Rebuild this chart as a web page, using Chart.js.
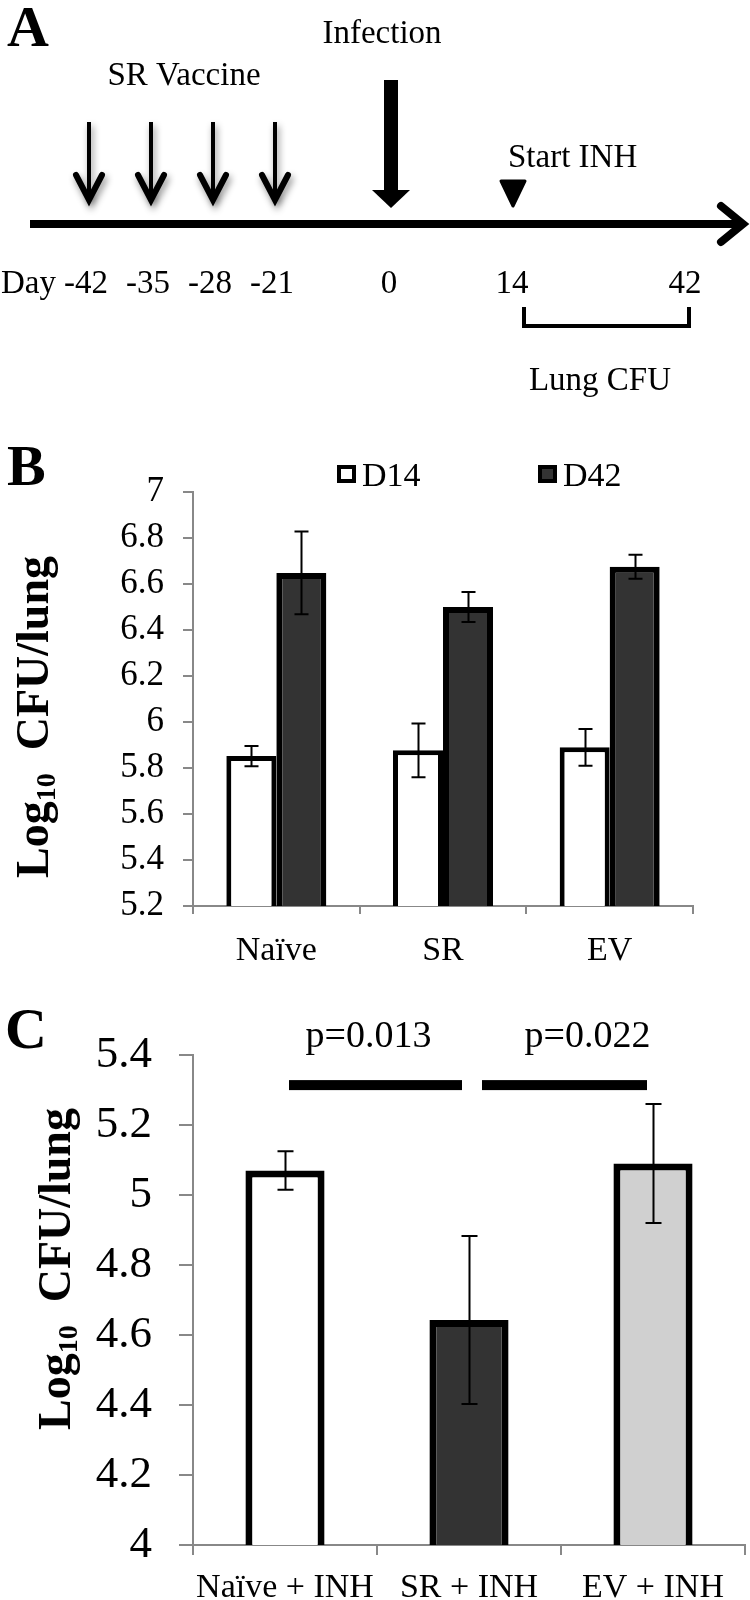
<!DOCTYPE html>
<html><head><meta charset="utf-8">
<script src="https://cdn.jsdelivr.net/npm/chart.js@4.4.1/dist/chart.umd.min.js"></script>
<style>
html,body{margin:0;padding:0;background:#fff;}
#wrap{position:relative;width:750px;height:1600px;overflow:hidden;background:#fff;font-family:"Liberation Serif","Times New Roman",serif;color:#000;}
canvas{position:absolute;left:0;}
.letter{position:absolute;font-weight:bold;font-size:58px;line-height:1;}
.ytitle{position:absolute;font-weight:bold;font-size:46px;white-space:nowrap;line-height:1;transform:translate(-50%,-50%) rotate(-90deg);}
.ytitle sub{font-size:28px;vertical-align:-0.25em;line-height:0;}
</style></head>
<body>
<div id="wrap">
  <canvas id="cA" width="750" height="400" style="top:0px"></canvas>
  <canvas id="cB" width="750" height="600" style="top:400px"></canvas>
  <canvas id="cC" width="750" height="600" style="top:1000px"></canvas>
  <div class="letter" style="left:7px;top:-2px">A</div>
  <div class="letter" style="left:7px;top:437px">B</div>
  <div class="letter" style="left:5px;top:1000px">C</div>
  <div class="ytitle" style="left:33px;top:717px">Log<sub>10</sub>&nbsp;&nbsp;CFU/lung</div>
  <div class="ytitle" style="left:55px;top:1269px">Log<sub>10</sub>&nbsp;&nbsp;CFU/lung</div>
</div>
<script>
// ---------- data ----------
const timelineDays = ['-42', '-35', '-28', '-21', '0', '14', '42'];
const vaccineDays = ['-42', '-35', '-28', '-21'];
const infectionDay = '0';
const inhStartDay = '14';
const cfuWindow = ['14', '42'];

const groupsB = ['Naïve', 'SR', 'EV'];
const seriesB = ['D14', 'D42'];
const d14Mean = [5.852, 5.877, 5.89];
const d14Err = [0.044, 0.117, 0.08];
const d42Mean = [6.648, 6.50, 6.675];
const d42Err = [0.18, 0.065, 0.052];
const yTicksB = [5.2, 5.4, 5.6, 5.8, 6, 6.2, 6.4, 6.6, 6.8, 7];

const groupsC = ['Naïve + INH', 'SR + INH', 'EV + INH'];
const meanC = [5.07, 4.643, 5.09];
const errC = [0.055, 0.24, 0.17];
const yTicksC = [4, 4.2, 4.4, 4.6, 4.8, 5, 5.2, 5.4];
const comparisonsC = [[0, 1], [1, 2]];
const pValuesC = ['p=0.013', 'p=0.022'];

// ---------- style / layout ----------
const FONT = '"Liberation Serif", "Times New Roman", serif';
const dayPosX = [89, 151, 213, 275, 391, 514, 687];   // schematic layout (not to scale)

// ---------- panel A : timeline schematic ----------
const timelinePlugin = {
  id: 'timeline',
  afterDraw(chart) {
    const ctx = chart.ctx, sx = chart.scales.x, sy = chart.scales.y;
    const X = v => sx.getPixelForValue(v), Y = v => sy.getPixelForValue(v);
    const px = d => X(dayPosX[timelineDays.indexOf(d)]);
    ctx.save();
    ctx.fillStyle = '#000'; ctx.strokeStyle = '#000';
    // main axis
    ctx.lineWidth = 8; ctx.lineCap = 'butt';
    ctx.beginPath(); ctx.moveTo(X(30), Y(224)); ctx.lineTo(X(744), Y(224)); ctx.stroke();
    ctx.lineJoin = 'miter'; ctx.lineCap = 'round';
    ctx.beginPath(); ctx.moveTo(X(721), Y(206)); ctx.lineTo(X(743), Y(224)); ctx.lineTo(X(721), Y(242)); ctx.stroke();
    // vaccine arrows with shadow
    vaccineDays.forEach(d => {
      const x = px(d);
      ctx.save();
      ctx.shadowColor = 'rgba(0,0,0,0.45)'; ctx.shadowBlur = 7; ctx.shadowOffsetX = 2; ctx.shadowOffsetY = 4;
      ctx.lineWidth = 4; ctx.lineCap = 'butt';
      ctx.beginPath(); ctx.moveTo(x, Y(122)); ctx.lineTo(x, Y(198)); ctx.stroke();
      ctx.lineWidth = 6; ctx.lineCap = 'round'; ctx.lineJoin = 'miter';
      ctx.beginPath(); ctx.moveTo(x - 13, Y(175)); ctx.lineTo(x, Y(200)); ctx.lineTo(x + 13, Y(175)); ctx.stroke();
      ctx.restore();
    });
    // infection arrow
    const xi = px(infectionDay);
    ctx.fillRect(xi - 7, Y(80), 14, Y(192) - Y(80));
    ctx.beginPath(); ctx.moveTo(xi - 19, Y(190)); ctx.lineTo(xi + 19, Y(190)); ctx.lineTo(xi, Y(208)); ctx.closePath(); ctx.fill();
    // INH triangle
    const xt = px(inhStartDay) - 1;
    ctx.lineJoin = 'round'; ctx.lineWidth = 3;
    ctx.beginPath(); ctx.moveTo(xt - 12, Y(181)); ctx.lineTo(xt + 12, Y(181)); ctx.lineTo(xt, Y(206)); ctx.closePath(); ctx.fill(); ctx.stroke();
    // bracket
    const b0 = px(cfuWindow[0]) + 10, b1 = px(cfuWindow[1]) + 2;
    ctx.lineWidth = 4; ctx.lineCap = 'butt'; ctx.lineJoin = 'miter';
    ctx.beginPath(); ctx.moveTo(b0, Y(307)); ctx.lineTo(b0, Y(326)); ctx.lineTo(b1, Y(326)); ctx.lineTo(b1, Y(307)); ctx.stroke();
    // texts
    ctx.textBaseline = 'alphabetic';
    ctx.font = '33px ' + FONT; ctx.textAlign = 'center';
    ctx.fillText('Infection', X(382), Y(43));
    ctx.fillText('SR Vaccine', X(184), Y(85));
    ctx.fillText('Lung CFU', X(600), Y(390));
    ctx.textAlign = 'left';
    ctx.fillText('Start INH', X(508), Y(167));
    ctx.font = '33px ' + FONT;
    ctx.textAlign = 'left'; ctx.fillText('Day', X(1), Y(293));
    ctx.textAlign = 'center';
    timelineDays.forEach((d, i) => ctx.fillText(d, X(dayPosX[i] - (d.startsWith('-') ? 3 : 2)), Y(293)));
    ctx.restore();
  }
};
new Chart(document.getElementById('cA'), {
  type: 'scatter',
  data: { datasets: [] },
  options: {
    responsive: false, animation: false, devicePixelRatio: 1, events: [],
    layout: { padding: 0 },
    plugins: { legend: { display: false }, tooltip: { enabled: false } },
    scales: { x: { display: false, min: 0, max: 750 }, y: { display: false, min: 0, max: 400, reverse: true } }
  },
  plugins: [timelinePlugin]
});

// ---------- shared plugins ----------
const errorBarPlugin = {
  id: 'errbars',
  afterDatasetsDraw(chart, args, opts) {
    const ctx = chart.ctx, y = chart.scales.y;
    chart.data.datasets.forEach((ds, i) => {
      const meta = chart.getDatasetMeta(i);
      meta.data.forEach((bar, j) => {
        const m = ds.data[j], e = ds.errors[j];
        const yt = y.getPixelForValue(m + e), yb = y.getPixelForValue(m - e);
        const x = Math.round(bar.x) + 0.5, c = opts.cap;
        ctx.save(); ctx.strokeStyle = '#000'; ctx.lineWidth = opts.width;
        ctx.beginPath();
        ctx.moveTo(x, yt); ctx.lineTo(x, yb);
        ctx.moveTo(x - c, yt); ctx.lineTo(x + c, yt);
        ctx.moveTo(x - c, yb); ctx.lineTo(x + c, yb);
        ctx.stroke(); ctx.restore();
      });
    });
  }
};

const legendPlugin = {
  id: 'boxLegend',
  afterDraw(chart, args, opts) {
    const ctx = chart.ctx;
    ctx.save();
    chart.data.datasets.forEach((ds, i) => {
      const x = opts.x[i], y = opts.y;
      ctx.fillStyle = ds.backgroundColor;
      ctx.fillRect(x, y, 19, 18);
      ctx.strokeStyle = '#000'; ctx.lineWidth = 4;
      ctx.strokeRect(x + 2, y + 2, 15, 14);
      ctx.fillStyle = '#000'; ctx.font = '34px ' + FONT;
      ctx.textAlign = 'left'; ctx.textBaseline = 'alphabetic';
      ctx.fillText(ds.label, x + 25, y + 21);
    });
    ctx.restore();
  }
};

const sigPlugin = {
  id: 'sig',
  afterDraw(chart, args, opts) {
    const ctx = chart.ctx, x = chart.scales.x, y = chart.scales.y;
    ctx.save();
    comparisonsC.forEach(([a, b], i) => {
      const x0 = x.getPixelForValue(a) + opts.inset[i][0];
      const x1 = x.getPixelForValue(b) - opts.inset[i][1];
      const yl = y.getPixelForValue(opts.level);
      ctx.fillStyle = '#000';
      ctx.fillRect(x0, yl - 5, x1 - x0, 10);
      ctx.font = '38px ' + FONT; ctx.textAlign = 'center'; ctx.textBaseline = 'alphabetic';
      ctx.fillText(pValuesC[i], (x0 + x1) / 2 + opts.textShift[i], y.getPixelForValue(opts.textLevel));
    });
    ctx.restore();
  }
};

const fmt = v => String(+(+v).toFixed(1));

// ---------- panel B ----------
new Chart(document.getElementById('cB'), {
  type: 'bar',
  data: {
    labels: groupsB,
    datasets: [
      { label: seriesB[0], data: d14Mean, errors: d14Err, backgroundColor: '#ffffff', borderColor: '#000', borderWidth: 5, borderSkipped: false },
      { label: seriesB[1], data: d42Mean, errors: d42Err, backgroundColor: '#333333', borderColor: '#000', borderWidth: 6, borderSkipped: false }
    ]
  },
  options: {
    responsive: false, animation: false, devicePixelRatio: 1, events: [],
    datasets: { bar: { categoryPercentage: 0.6, barPercentage: 1.0 } },
    layout: { padding: { top: 92, right: 57, bottom: 0, left: 0 } },
    plugins: {
      legend: { display: false }, tooltip: { enabled: false },
      errbars: { cap: 7, width: 2 },
      boxLegend: { x: [337, 538], y: 65 }
    },
    scales: {
      x: {
        grid: { display: true, drawOnChartArea: false, drawTicks: true, tickLength: 8, color: '#888', lineWidth: 2, offset: true },
        border: { display: true, color: '#888', width: 2 },
        ticks: { color: '#000', font: { family: FONT, size: 34 }, padding: 17, maxRotation: 0, autoSkip: false },
        afterFit(s) { s.height = 94; }
      },
      y: {
        min: yTicksB[0], max: yTicksB[yTicksB.length - 1],
        grid: { display: true, drawOnChartArea: false, drawTicks: true, tickLength: 10, color: '#888', lineWidth: 2 },
        border: { display: true, color: '#888', width: 2 },
        ticks: { color: '#000', font: { family: FONT, size: 35 }, padding: 19, callback: fmt },
        afterBuildTicks(s) { s.ticks = yTicksB.map(v => ({ value: v })); },
        afterFit(s) { s.width = 193; }
      }
    }
  },
  plugins: [errorBarPlugin, legendPlugin]
});

// ---------- panel C ----------
new Chart(document.getElementById('cC'), {
  type: 'bar',
  data: {
    labels: groupsC,
    datasets: [
      { label: 'Log10 CFU/lung', data: meanC, errors: errC,
        backgroundColor: ['#ffffff', '#333333', '#d0d0d0'], borderColor: '#000', borderWidth: 7, borderSkipped: false }
    ]
  },
  options: {
    responsive: false, animation: false, devicePixelRatio: 1, events: [],
    datasets: { bar: { categoryPercentage: 0.43, barPercentage: 1.0 } },
    layout: { padding: { top: 55, right: 5, bottom: 0, left: 0 } },
    plugins: {
      legend: { display: false }, tooltip: { enabled: false },
      errbars: { cap: 8, width: 2 },
      sig: { level: 5.314, textLevel: 5.424, inset: [[4, 7], [13, 6]], textShift: [-7, 23] }
    },
    scales: {
      x: {
        grid: { display: true, drawOnChartArea: false, drawTicks: true, tickLength: 10, color: '#888', lineWidth: 2, offset: true },
        border: { display: true, color: '#888', width: 2 },
        ticks: { color: '#000', font: { family: FONT, size: 34 }, padding: 13, maxRotation: 0, autoSkip: false },
        afterFit(s) { s.height = 55; }
      },
      y: {
        min: yTicksC[0], max: yTicksC[yTicksC.length - 1],
        grid: { display: true, drawOnChartArea: false, drawTicks: true, tickLength: 14, color: '#888', lineWidth: 2 },
        border: { display: true, color: '#888', width: 2 },
        ticks: { color: '#000', font: { family: FONT, size: 45 }, padding: 27, callback: fmt },
        afterBuildTicks(s) { s.ticks = yTicksC.map(v => ({ value: v })); },
        afterFit(s) { s.width = 193; }
      }
    }
  },
  plugins: [errorBarPlugin, sigPlugin]
});
</script>
</body></html>
